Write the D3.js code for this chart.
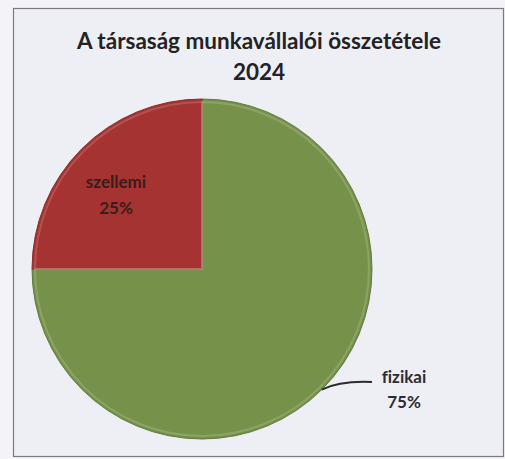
<!DOCTYPE html>
<html><head><meta charset="utf-8">
<script src="https://cdn.jsdelivr.net/npm/d3@7"></script>
<style>html,body{margin:0;padding:0;background:#f4f4f8;}svg{display:block;}text{font-variant-ligatures:none;font-feature-settings:"liga" 0;}</style>
</head><body>
<script>
const titleLines = ["A társaság munkavállalói összetétele", "2024"];
const categories = ["fizikai", "szellemi"];
const values = [75, 25];
const labels = ["75%", "25%"];
const colors = ["#86a257", "#b8403f"];

const W = 505, H = 459;
const svg = d3.select("body").append("svg").attr("width", W).attr("height", H);
const defs = svg.append("defs");

svg.append("rect").attr("x", 0).attr("y", 0).attr("width", W).attr("height", H).attr("fill", "#f4f4f8");
svg.append("rect").attr("x", 13.5).attr("y", 8.5).attr("width", 490).attr("height", 448)
  .attr("fill", "#eeeef5").attr("stroke", "#7a7a80").attr("stroke-width", 1.2);

const font = "Lato, 'Open Sans', sans-serif";
const t = svg.append("text").attr("text-anchor", "middle").attr("font-family", font)
  .attr("font-weight", "bold").attr("font-size", 22.5).attr("fill", "#232323");
titleLines.forEach((l, i) => t.append("tspan").attr("x", 259).attr("y", 49 + i * 31).text(l));

const cx = 202, cy = 269, r = 170;
const grads = [["gG", "#8aa75a", "#76924a"], ["gR", "#be4846", "#a43331"]];
grads.forEach(([id, c1, c2]) => {
  const g = defs.append("radialGradient").attr("id", id).attr("gradientUnits", "userSpaceOnUse")
    .attr("cx", cx).attr("cy", cy).attr("r", r);
  g.append("stop").attr("offset", "0%").attr("stop-color", c1);
  g.append("stop").attr("offset", "92%").attr("stop-color", c1);
  g.append("stop").attr("offset", "100%").attr("stop-color", c2);
});

const pie = d3.pie().sort(null).value(d => d.v);
const data = pie(categories.map((c, i) => ({c, v: values[i], l: labels[i], i})));
const arc = d3.arc().innerRadius(0).outerRadius(r);
const g = svg.append("g").attr("transform", `translate(${cx},${cy})`);
g.selectAll("path").data(data).enter().append("path")
  .attr("d", arc)
  .attr("fill", d => d.index === 0 ? "url(#gG)" : "url(#gR)")
  .attr("stroke", d => d.index === 0 ? "#5f7a3a" : "#8e2a28").attr("stroke-width", 1);

g.selectAll("path.bev").data(data).enter().append("path").attr("class", "bev")
  .attr("d", d3.arc().innerRadius(0).outerRadius(r - 3))
  .attr("fill", "none").attr("stroke", "rgba(255,255,255,0.16)").attr("stroke-width", 2);

// szellemi label inside
const red = data[1];
const rl = svg.append("text").attr("text-anchor", "middle").attr("font-family", font)
  .attr("font-weight", "bold").attr("font-size", 17).attr("fill", "#3a1c1c");
rl.append("tspan").attr("x", 116).attr("y", 188).text(red.data.c);
rl.append("tspan").attr("x", 116).attr("y", 214).text(red.data.l);

// fizikai label outside with leader
const gr = data[0];
const ang = 2.36;
const p0 = [cx + Math.sin(ang) * r, cy - Math.cos(ang) * r];
svg.append("path").attr("d", `M${p0[0]},${p0[1]} Q${p0[0] + 18},${p0[1] - 9} ${372},${382}`)
  .attr("fill", "none").attr("stroke", "#2c2c30").attr("stroke-width", 2);
const gl = svg.append("text").attr("text-anchor", "middle").attr("font-family", font)
  .attr("font-weight", "bold").attr("font-size", 17).attr("fill", "#2c2c34");
gl.append("tspan").attr("x", 404).attr("y", 383).text(gr.data.c);
gl.append("tspan").attr("x", 404).attr("y", 408).text(gr.data.l);
</script>
</body></html>
